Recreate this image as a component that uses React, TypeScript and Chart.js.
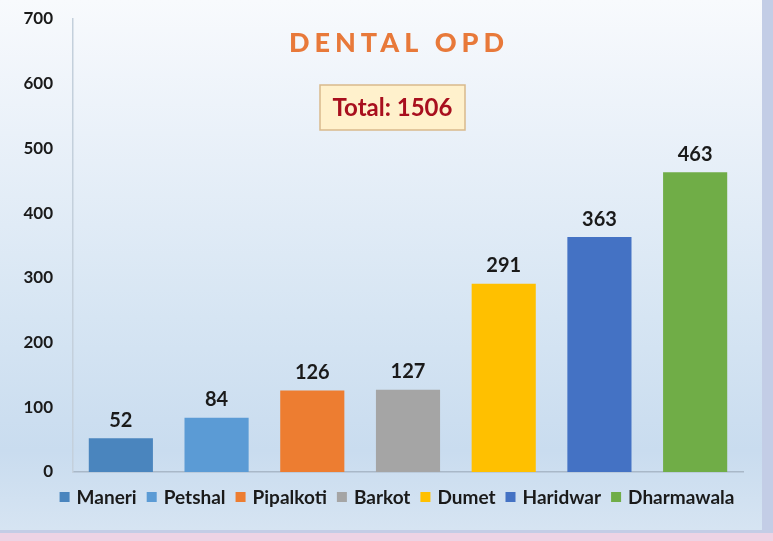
import React, { useEffect, useRef } from "react";
import { Chart, registerables } from "chart.js";

Chart.register(...registerables);

const categories = ["Maneri", "Petshal", "Pipalkoti", "Barkot", "Dumet", "Haridwar", "Dharmawala"];
const values = [52, 84, 126, 127, 291, 363, 463];
const colors = ["#4A85BE", "#5B9BD5", "#ED7D31", "#A5A5A5", "#FFC000", "#4472C4", "#70AD47"];
const yTicks = [0, 100, 200, 300, 400, 500, 600, 700];
const titleText = "DENTAL OPD";
const totalText = "Total: 1506";

const FONT = "Lato, 'Open Sans', sans-serif";

const overlayPlugin = {
  id: "overlay",
  afterDatasetsDraw(chart: any) {
    const ctx = chart.ctx;
    const meta = chart.getDatasetMeta(0);
    ctx.save();
    ctx.fillStyle = "#1a1a1a";
    ctx.font = `bold 20px ${FONT}`;
    ctx.textAlign = "center";
    ctx.textBaseline = "bottom";
    meta.data.forEach((bar: any, i: number) => {
      ctx.fillText(String(values[i]), bar.x, bar.y - 8);
    });
    ctx.restore();
  },
  afterDraw(chart: any) {
    const ctx = chart.ctx;
    ctx.save();
    // title
    ctx.fillStyle = "#E8793A";
    ctx.font = `900 27px ${FONT}`;
    (ctx as any).letterSpacing = "5px";
    ctx.textAlign = "center";
    ctx.textBaseline = "middle";
    ctx.fillText(titleText, 399, 43);
    (ctx as any).letterSpacing = "0px";
    // total box
    const bx = 320, by = 85, bw = 145, bh = 45;
    ctx.fillStyle = "#FFF1CC";
    ctx.fillRect(bx, by, bw, bh);
    ctx.strokeStyle = "#D9B98C";
    ctx.lineWidth = 1.5;
    ctx.strokeRect(bx, by, bw, bh);
    ctx.fillStyle = "#A80F1E";
    ctx.font = `bold 24px ${FONT}`;
    ctx.fillText(totalText, bx + bw / 2, by + bh / 2 + 1);

    // legend
    ctx.font = `bold 19px ${FONT}`;
    ctx.textAlign = "left";
    ctx.textBaseline = "middle";
    const box = 10, gapBT = 7, gapItem = 10;
    const widths = categories.map((c) => ctx.measureText(c).width);
    const total = widths.reduce((a, w) => a + box + gapBT + w, 0) + gapItem * (categories.length - 1);
    let x = 397 - total / 2;
    const y = 497;
    categories.forEach((c, i) => {
      ctx.fillStyle = colors[i];
      ctx.fillRect(x, y - box / 2, box, box);
      x += box + gapBT;
      ctx.fillStyle = "#1a1a1a";
      ctx.fillText(c, x, y + 1);
      x += widths[i] + gapItem;
    });
    ctx.restore();
  },
};

export default function App() {
  const ref = useRef<HTMLCanvasElement | null>(null);
  useEffect(() => {
    if (!ref.current) return;
    const chart = new Chart(ref.current, {
      type: "bar",
      data: {
        labels: categories,
        datasets: [
          {
            label: "Dental OPD",
            data: values,
            backgroundColor: colors,
            borderWidth: 0,
            barPercentage: 0.67,
            categoryPercentage: 1,
          },
        ],
      },
      options: {
        animation: false,
        responsive: false,
        maintainAspectRatio: false,
        layout: { padding: { left: 14, right: 30, top: 19, bottom: 69 } },
        plugins: {
          title: { display: false },
          tooltip: { enabled: false },
          legend: { display: false },
        },
        scales: {
          x: {
            grid: { display: false, drawTicks: false },
            border: { display: true, color: "#a9b8c8", width: 1.5 },
            ticks: { display: false },
          },
          y: {
            min: 0,
            max: 700,
            afterBuildTicks: (axis: any) => {
              axis.ticks = yTicks.map((v) => ({ value: v }));
            },
            afterFit: (axis: any) => {
              axis.width = 59;
            },
            grid: { display: false, drawTicks: true, tickLength: 20, tickColor: "rgba(0,0,0,0)" },
            border: { display: true, color: "#c4d0dc", width: 1.5 },
            ticks: {
              font: { family: FONT, size: 17, weight: "bold" },
              color: "#1a1a1a",
              padding: 0,
            },
          },
        },
      },
      plugins: [overlayPlugin],
    });
    return () => chart.destroy();
  }, []);

  return (
    <div
      style={{
        position: "fixed",
        left: 0,
        top: 0,
        width: 773,
        height: 541,
        background: "#c3cde6",
        overflow: "hidden",
      }}
    >
      <div
        style={{
          position: "absolute",
          left: 0,
          top: 0,
          width: 762,
          height: 530,
          background:
            "linear-gradient(180deg, #f8fafd 0%, #eaf1f9 25%, #d6e5f3 60%, #c9dcef 85%, #d6e4f2 100%)",
        }}
      />
      <div
        style={{
          position: "absolute",
          left: 0,
          top: 533,
          width: 773,
          height: 8,
          background: "#eed3e4",
        }}
      />
      <canvas ref={ref} width={773} height={541} style={{ position: "absolute", left: 0, top: 0 }} />
    </div>
  );
}
